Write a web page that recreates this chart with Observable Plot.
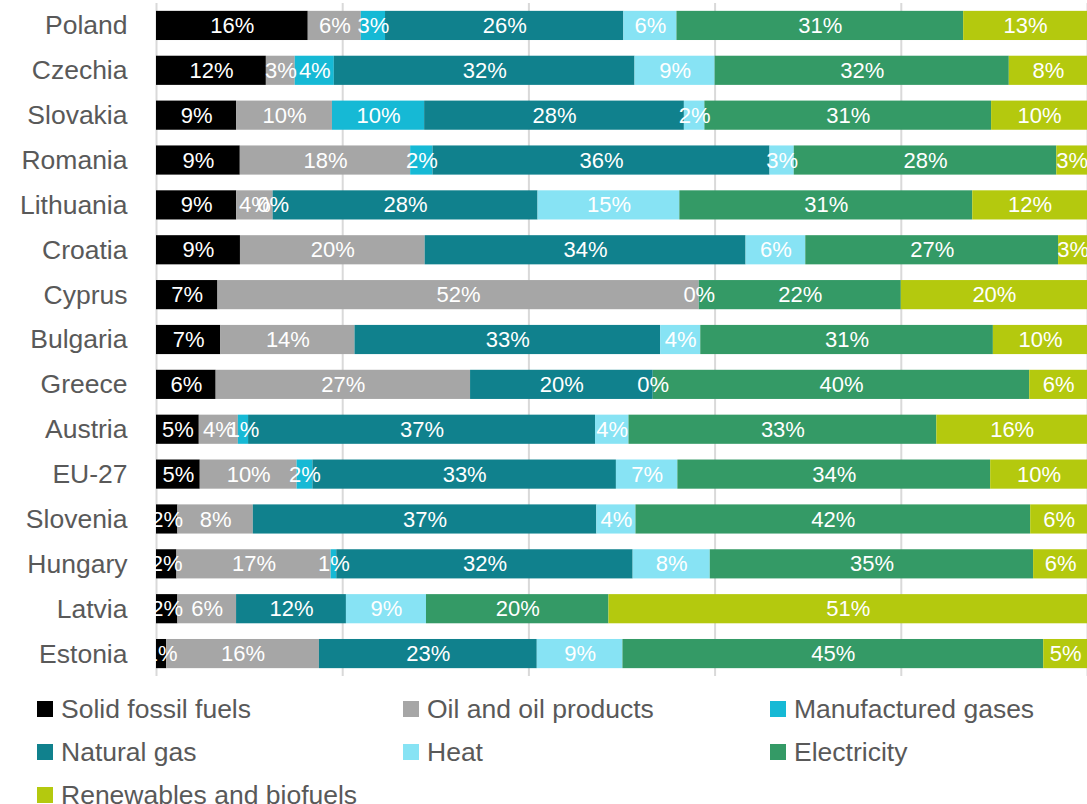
<!DOCTYPE html>
<html>
<head>
<meta charset="utf-8">
<script src="https://cdn.jsdelivr.net/npm/d3@7"></script>
<script src="https://cdn.jsdelivr.net/npm/@observablehq/plot@0.6"></script>
<style>
  html, body { margin: 0; padding: 0; background: #fff; overflow: hidden; }
  #chart svg { display: block; }
  .legend { display: grid; grid-template-columns: 366px 367px 320px; padding-left: 37px; margin-top: 11.5px;
            font-family: "Liberation Sans", Arial, sans-serif; font-size: 26.5px; color: #595959; }
  .legend div { height: 43px; line-height: 43px; display: flex; align-items: center; white-space: nowrap; }
  .legend span.sw { display: inline-block; width: 16px; height: 16px; margin-right: 8px; flex: none; }
</style>
</head>
<body>
<div id="chart"></div>
<div class="legend" id="legend"></div>
<script>
const countries = ["Poland","Czechia","Slovakia","Romania","Lithuania","Croatia","Cyprus","Bulgaria","Greece","Austria","EU-27","Slovenia","Hungary","Latvia","Estonia"];
const categories = ["Solid fossil fuels","Oil and oil products","Manufactured gases","Natural gas","Heat","Electricity","Renewables and biofuels"];
const colors = ["#000000","#a6a6a6","#16b9d5","#10818d","#87e3f4","#349a66","#b4c90e"];

const solidFossil = [16.3, 11.8, 8.6, 9.0, 8.6, 9.0, 6.6, 6.9, 6.4, 4.6, 4.7, 2.3, 2.2, 2.3, 1.1];
const oilProducts = [5.7, 3.1, 10.3, 18.3, 3.9, 19.8, 51.7, 14.4, 27.3, 4.2, 10.4, 8.1, 16.6, 6.3, 16.4];
const manufGases  = [2.6, 4.2, 9.9, 2.4, 0, null, null, null, null, 1.1, 1.7, null, 0.6, null, null];
const naturalGas  = [25.6, 32.3, 27.9, 36.2, 28.4, 34.4, 0, 32.8, 19.6, 37.3, 32.6, 36.9, 31.9, 11.8, 23.4];
const heat        = [5.7, 8.6, 2.2, 2.6, 15.2, 6.4, null, 4.3, 0, 3.6, 6.6, 4.2, 8.3, 8.6, 9.2];
const electricity = [30.8, 31.6, 30.8, 28.2, 31.4, 27.1, 21.7, 31.4, 40.4, 33.1, 33.6, 42.4, 34.8, 19.6, 45.2];
const renewables  = [13.3, 8.4, 10.3, 3.3, 12.3, 3.1, 20.0, 10.1, 6.2, 16.2, 10.4, 6.1, 5.8, 51.4, 4.7];
const gridTicks = [0, 0.2, 0.4, 0.6, 0.8, 1];

const series = [solidFossil, oilProducts, manufGases, naturalGas, heat, electricity, renewables];
const data = [];
countries.forEach((c, i) => {
  categories.forEach((cat, j) => {
    const v = series[j][i];
    if (v !== null && v !== undefined) data.push({country: c, category: cat, value: v});
  });
});

const font = '"Liberation Sans", Arial, sans-serif';
const chart = Plot.plot({
  width: 1087,
  height: 676,
  marginTop: 3,
  marginBottom: 0,
  marginLeft: 156,
  marginRight: 0,
  style: {fontFamily: font, background: "#fff"},
  x: {domain: [0, 1], axis: null},
  y: {domain: countries, paddingInner: 0.35, paddingOuter: 0.175, round: false, label: null},
  color: {domain: categories, range: colors},
  marks: [
    Plot.ruleX(gridTicks, {stroke: "#d9d9d9", strokeWidth: 2}),
    Plot.barX(data, Plot.stackX({offset: "normalize", x: "value", y: "country", fill: "category", order: null})),
    Plot.textX(data, Plot.stackX({offset: "normalize", x: "value", y: "country", z: "category", order: null,
      text: d => Math.round(d.value) + "%", fill: "white", fontSize: 22})),
    Plot.axisY({tickSize: 0, tickPadding: 29, fontSize: 26.5, label: null, color: "#595959"})
  ]
});
document.getElementById("chart").appendChild(chart);

const legend = document.getElementById("legend");
categories.forEach((cat, j) => {
  const item = document.createElement("div");
  const sw = document.createElement("span");
  sw.className = "sw";
  sw.style.background = colors[j];
  item.appendChild(sw);
  item.appendChild(document.createTextNode(cat));
  legend.appendChild(item);
});
</script>
</body>
</html>
